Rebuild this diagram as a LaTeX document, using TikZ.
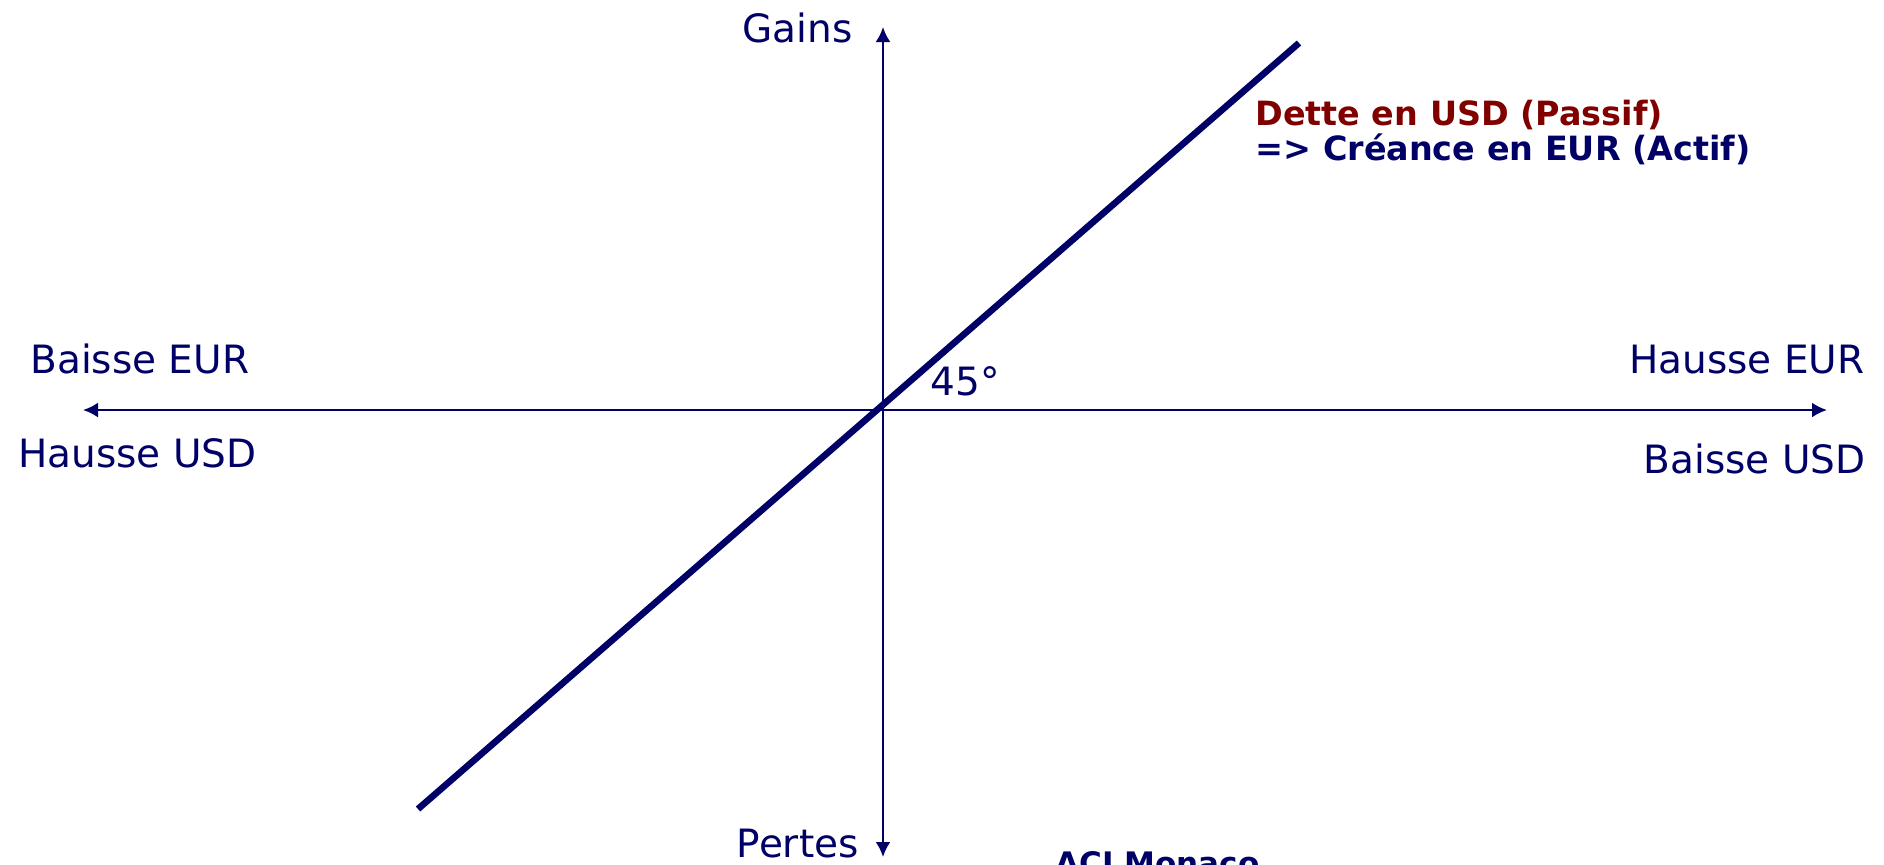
\documentclass[tikz,border=0pt]{standalone}
\usepackage{fontspec}
\setmainfont{DejaVu Sans}
\usetikzlibrary{arrows.meta}
\definecolor{navy}{RGB}{0,0,102}
\definecolor{darkred}{RGB}{128,0,0}
\begin{document}
\begin{tikzpicture}[x=0.5pt,y=-0.5pt,
    axe/.style={draw=navy,line width=1.2pt,{Latex[length=7.5pt,width=7.5pt]}-{Latex[length=7.5pt,width=7.5pt]}},
    lbl/.style={text=navy,font=\fontsize{19.5}{23}\selectfont,inner sep=0pt},
    blbl/.style={font=\fontsize{16.7}{17.5}\selectfont\bfseries,inner sep=0pt,align=left}]
    \useasboundingbox (0,0) rectangle (1884,864);
    % axes
    \coordinate (o) at (883,410);
    \coordinate (n) at (883,27);
    \coordinate (s) at (883,857);
    \coordinate (w) at (83,410);
    \coordinate (e) at (1827,410);
    \draw[axe] (w) -- (e);
    \draw[axe] (s) -- (n);
    % position
    \coordinate (lo) at (418,809);
    \coordinate (hi) at (1299,43);
    \draw[navy,line width=3.3pt] (lo) -- (hi);
    % labels
    \node[lbl,anchor=base east] (gains) at (853,42) {Gains};
    \node[lbl,anchor=base east] (pertes) at (859,857) {Pertes};
    \node[lbl,anchor=base west] (beur) at (30,373) {Baisse EUR};
    \node[lbl,anchor=base west] (husd) at (18,467) {Hausse USD};
    \node[lbl,anchor=base east] (heur) at (1865,373) {Hausse EUR};
    \node[lbl,anchor=base east] (busd) at (1866,473) {Baisse USD};
    \node[lbl,anchor=base west] (angle) at (930,395) {45°};
    \node[blbl,text=navy,anchor=base west] (dette) at (1255,160)
        {\textcolor{darkred}{Dette en USD (Passif)}\\=> Créance en EUR (Actif)};
    \node[blbl,text=navy,font=\fontsize{15.5}{17}\selectfont\bfseries,anchor=base west] (aci) at (1055,874) {ACI Monaco};
\end{tikzpicture}
\end{document}
